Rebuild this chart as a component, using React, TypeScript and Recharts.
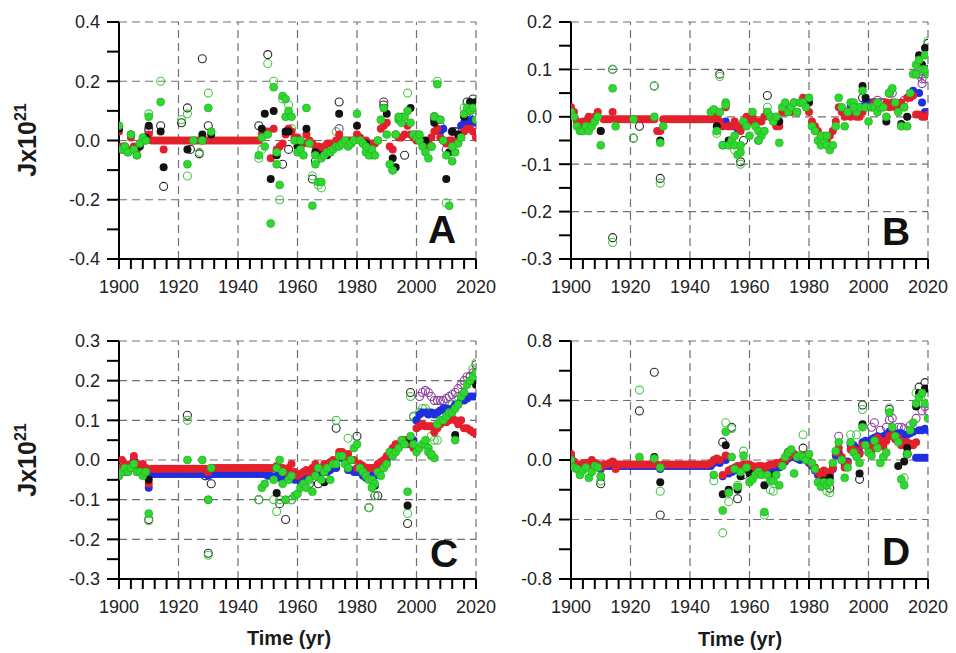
import { ScatterChart, Scatter, XAxis, YAxis, ReferenceLine } from 'recharts'

// Each series is a list of [firstYear, values[]] runs, one value per year
type Seg = [number, number[]]

const FONT = 'Arial, "Liberation Sans", Helvetica, sans-serif'

// ---- shared x axis ----
const xMajor = [1900, 1920, 1940, 1960, 1980, 2000, 2020]
const xTicks = Array.from({ length: 31 }, (_, i) => 1900 + i * 4)

// ---- panel A ----
const aYMajor = [-0.4, -0.2, 0, 0.2, 0.4]
const aYTicks = [-0.4, -0.3, -0.2, -0.1, 0, 0.1, 0.2, 0.3, 0.4]
const aRed: Seg[] = [
  [1900, [0.03, -0.02, -0.02, -0.03, 0.01, -0.02, -0.03, -0.01, 0, 0.01]],
  [1910, [0.02, 0, 0, 0, 0, 0, 0, 0, 0, 0]],
  [1920, [0, 0, 0, 0, 0, 0, 0, 0, 0, 0]],
  [1930, [0, 0, 0, 0, 0, 0, 0, 0, 0, 0]],
  [1940, [0, 0, 0, 0, 0, 0, 0, 0, 0.02, 0.03]],
  [1950, [0.03, -0.06, 0.04, -0.03, -0.02, -0.01, 0.02, 0.04, 0.03, 0.01]],
  [1960, [0.01, 0, -0.01, 0.02, 0, -0.01, -0.02, -0.02, -0.03, -0.02]],
  [1970, [-0.01, -0.01, -0.02, 0, 0.02, 0, -0.01, 0, 0, 0]],
  [1980, [0.02, 0.01, -0.01, 0, -0.01, -0.01, -0.01, 0, 0.04, 0.05]],
  [1990, [0.06, -0.02, -0.03, 0.02, 0.01, 0.01, 0.02, 0.05, 0.02, 0.01]],
  [2000, [0, 0.01, -0.01, -0.02, -0.01, 0.01, 0.03, 0.04, 0.01, 0]],
  [2010, [-0.01, 0, 0, -0.01, 0, 0.02, 0.03, 0.04, 0.04, 0.03, 0.01]],
  [1915, [-0.03]],
]
const aBlue: Seg[] = [[2008, [0.03, 0.04]], [2015, [0.05, 0.06, 0.07, 0.06, 0.07, 0.06]]]
const aGreen: Seg[] = [
  [1900, [0.05, -0.03, -0.02, -0.04, 0.02, -0.03, -0.05, -0.01, 0.01, 0]],
  [1910, [0.08]], [1914, [0.13]], [1923, [-0.08]], [1925, [0]], [1928, [0]], [1930, [0.11, 0.03]],
  [1947, [-0.05, 0.01, -0.02]],
  [1950, [0.02, -0.28, 0.18, -0.08, -0.15, 0.15, 0.08, 0.1, 0.08, 0]],
  [1960, [-0.04, -0.03, -0.05, 0.11, -0.01, -0.22, -0.05, -0.14, -0.06, -0.05]],
  [1970, [-0.04, -0.04, -0.03, -0.02, -0.02, -0.01, 0, -0.02, -0.01, 0]],
  [1980, [0.09, 0, -0.01, -0.04, -0.05, -0.03, -0.05, 0, 0.07, 0.11]],
  [1990, [0.02, -0.08, -0.1, 0.02, 0.07, 0.06, 0.08, 0.1, 0.06, 0.02]],
  [2000, [0.01, 0, -0.02, -0.04, -0.06, -0.02, 0.08, 0.19, 0.07, 0]],
  [2010, [-0.05, -0.22, -0.07, -0.04, -0.01, 0.01, 0.09, 0.11, 0.1, 0.11, 0.07]],
  [1953, [-0.04]], [1956, [0.14]], [1961, [0]], [1966, [-0.08]], [1968, [-0.14]],
  [1983, [-0.02]], [1994, [0.08]], [2001, [0.02]], [2012, [-0.02]],
]
const aBlack: Seg[] = [
  [1900, [0.04, -0.03, -0.03, -0.04, 0.02, -0.03, -0.05, -0.02, 0, 0.01]],
  [1910, [0.05]], [1914, [0.03, -0.09]], [1923, [-0.03]], [1928, [0.02]], [1931, [0.02]],
  [1948, [0.04, 0.09]], [1951, [-0.13, 0.1, -0.05]], [1956, [0.03, 0.03]], [1960, [-0.02]],
  [1963, [0.04]], [1966, [-0.04]], [1968, [-0.05]], [1970, [-0.05, -0.04]], [1974, [0.09]],
  [1978, [-0.01]], [1980, [0.05]], [1983, [-0.01]], [1985, [-0.05]], [1989, [0.11, 0.09]],
  [1992, [-0.06, -0.09]], [1995, [0.08]], [1998, [0.11]], [2000, [0.02]], [2003, [0]],
  [2006, [0.06, 0.07, 0.07, 0]], [2010, [-0.13, -0.04, 0.03]], [2014, [0.02]],
  [2016, [0.08, 0.1, 0.13, 0.11, 0.13]],
]
const aBlackOpen: Seg[] = [
  [1910, [0.04]], [1914, [0.05, -0.155]], [1921, [0.06]], [1923, [0.11, -0.03]], [1927, [-0.045, 0.276]],
  [1930, [0.05]], [1947, [0.05]], [1950, [0.29]], [1955, [-0.08]], [1957, [-0.03]], [1965, [-0.13, -0.07]],
  [1974, [0.13]], [1989, [0.12]], [1996, [-0.05]], [2006, [0.08]], [2013, [0.03]], [2017, [0.13]], [2019, [0.14]],
]
const aGreenOpen: Seg[] = [
  [1910, [0.09]], [1914, [0.2]], [1921, [0.07]], [1923, [0.09]], [1923, [-0.12]], [1927, [-0.04]],
  [1930, [0.16]], [1947, [-0.06, -0.03]], [1950, [0.26]], [1952, [0.2]], [1954, [-0.2, 0.14]],
  [1957, [0.12, 0.04]], [1965, [-0.12]], [1967, [-0.15, -0.16]], [1973, [0.03]], [1989, [0.13]],
  [1992, [-0.1]], [1997, [0.16]], [2005, [-0.02, 0.08, 0.2]], [2010, [-0.21]], [2016, [0.11]], [2020, [0.11]],
]
const aPurpleOpen: Seg[] = [
  [1910, [0.03]], [1974, [0.04]], [1989, [0.13]], [2006, [0.07]], [2008, [0.05]], [2010, [-0.03]],
  [2012, [0.03]], [2014, [0.03]], [2017, [0.09]], [2019, [0.08, 0.09]],
]

// ---- panel B ----
const bYMajor = [-0.3, -0.2, -0.1, 0, 0.1, 0.2]
const bYTicks = [-0.3, -0.25, -0.2, -0.15, -0.1, -0.05, 0, 0.05, 0.1, 0.15, 0.2]
const bRed: Seg[] = [
  [1900, [0.02, 0.01, -0.01, -0.02, -0.01, -0.01, 0, -0.01, 0, 0.01]],
  [1910, [-0.03, -0.005, -0.005, -0.005, 0.01, -0.005, -0.005, -0.005, -0.005, -0.005]],
  [1920, [-0.005, -0.005, -0.005, -0.005, -0.005, -0.005, -0.005, -0.005, -0.005, -0.03]],
  [1930, [-0.03, -0.005, -0.005, -0.005, -0.005, -0.005, -0.005, -0.005, -0.005, -0.005]],
  [1940, [-0.005, -0.005, -0.005, -0.005, -0.005, -0.005, -0.005, -0.005, -0.005, 0]],
  [1950, [-0.01, -0.02, 0.02, -0.02, -0.02, -0.01, -0.02, -0.03, -0.01, 0]],
  [1960, [-0.01, 0, -0.01, -0.01, -0.01, 0, 0.01, 0, -0.01, -0.02]],
  [1970, [-0.02, 0.01, 0.01, 0.02, 0.01, 0.03, 0.01, 0.03, 0.04, 0.03]],
  [1980, [0.01, -0.01, -0.02, -0.03, -0.04, -0.04, -0.05, -0.04, -0.03, -0.01]],
  [1990, [0.02, 0.01, 0, 0.01, 0, 0.01, 0, 0, 0.01, 0.02]],
  [2000, [0.02, 0.02, 0.03, 0.02, 0.02, 0.02, 0.03, 0.02, 0.03, 0.02]],
  [2010, [0.02, 0.03, 0.02, 0.04, 0.04, 0.045, 0.005, 0.005, 0, 0, 0.005]],
]
const bBlue: Seg[] = [
  [1950, [-0.015, -0.02, -0.01, -0.02, -0.02, -0.02, -0.025, -0.02, -0.02, -0.015]],
  [1994, [0.02, 0.01, 0.01, 0.02, 0.02, 0.03, 0.03, 0.03, 0.03]],
  [2015, [0.055]], [2017, [0.05, 0.03, 0.01, 0.01]],
]
const bGreen: Seg[] = [
  [1900, [0.01, 0, -0.02, -0.03, -0.03, -0.02, -0.03, -0.02, -0.01, 0]],
  [1910, [-0.06]], [1914, [0.06, -0.02]], [1921, [-0.005]], [1928, [0]], [1930, [-0.055, -0.02]],
  [1947, [0.01, 0.015, -0.03]],
  [1950, [0.01, -0.06, 0.03, -0.06, -0.05, -0.04, -0.08, -0.075, -0.01, -0.02]],
  [1960, [-0.04, 0.01, -0.02, -0.03, -0.04, -0.03, 0.01, 0, -0.01, 0]],
  [1970, [-0.055, 0.02, 0.03, 0.01, 0.02, 0.03, 0.01, 0.03, 0.03, 0.02]],
  [1980, [0.04, -0.02, -0.03, -0.05, -0.06, -0.05, -0.06, -0.07, -0.06, -0.02]],
  [1990, [0.04, 0.02, -0.02, 0.01, 0.03, 0.03, 0.01, 0.02, 0.055, 0.02]],
  [2000, [-0.01, 0.02, 0.02, 0.01, 0.02, 0.02, 0, 0.05, 0.06, 0.03]],
  [2010, [0.01, -0.02, 0.02, -0.02, 0.05, 0.09, 0.11, 0.12, 0.1, 0.13, 0.09]],
  [1952, [0.025]], [1955, [-0.06]], [1957, [-0.06]], [1963, [-0.05]], [1984, [-0.04]],
  [1986, [-0.04]], [1995, [0.02]], [2003, [0.03]], [2016, [0.09]], [2019, [0.1]],
]
const bBlack: Seg[] = [
  [1910, [-0.03]], [1930, [-0.05]], [1949, [-0.02]], [1951, [-0.06]], [1953, [-0.05]], [1963, [-0.05]],
  [1966, [0.01]], [1970, [-0.01]], [1980, [0.03]], [1998, [0.065, 0.04]], [2006, [-0.01]],
  [2011, [-0.015]], [2013, [0]], [2017, [0.13, 0.11, 0.145, 0.1]],
]
const bBlackOpen: Seg[] = [
  [1914, [-0.255]], [1914, [0.1]], [1921, [-0.045]], [1923, [-0.02]], [1928, [0.065]], [1930, [-0.13]],
  [1950, [0.09]], [1957, [-0.095, -0.05]], [1966, [0.045]], [1998, [0.04]], [2007, [0.05]],
  [2018, [0.09]], [2020, [0.155]],
]
const bGreenOpen: Seg[] = [
  [1914, [-0.265]], [1914, [0.1]], [1921, [-0.045]], [1928, [0.065]], [1930, [-0.14]],
  [1948, [0.015, -0.035, 0.085]], [1955, [-0.07]], [1957, [-0.1]], [1966, [0.02]], [2007, [0.05]],
  [2016, [0.09]], [2020, [0.16]],
]
const bPurpleOpen: Seg[] = [
  [2002, [0.03, 0.035, 0.03, 0.03]], [2008, [0.05]], [2012, [0.035]], [2017, [0.09, 0.08, 0.08, 0.1]], [2018, [0.07]],
]

// ---- panel C ----
const cYMajor = [-0.3, -0.2, -0.1, 0, 0.1, 0.2, 0.3]
const cYTicks = [-0.3, -0.25, -0.2, -0.15, -0.1, -0.05, 0, 0.05, 0.1, 0.15, 0.2, 0.25, 0.3]
const cRed: Seg[] = [
  [1900, [-0.02, 0, -0.01, -0.02, -0.01, 0.01, -0.01, -0.02, -0.01, -0.02]],
  [1910, [-0.06, -0.022, -0.022, -0.022, -0.022, -0.022, -0.022, -0.022, -0.022, -0.022]],
  [1920, [-0.022, -0.022, -0.022, -0.022, -0.022, -0.022, -0.022, -0.022, -0.022, -0.022]],
  [1930, [-0.03, -0.02, -0.02, -0.02, -0.02, -0.02, -0.02, -0.02, -0.02, -0.02]],
  [1940, [-0.02, -0.02, -0.02, -0.02, -0.02, -0.02, -0.02, -0.02, -0.02, -0.02]],
  [1950, [-0.02, -0.02, -0.02, -0.015, -0.02, -0.02, -0.03, -0.02, -0.01, -0.03]],
  [1960, [-0.04, -0.035, -0.03, -0.025, -0.03, -0.02, -0.01, -0.02, -0.02, -0.01]],
  [1970, [-0.01, -0.005, 0, -0.01, 0.02, 0.02, 0.01, 0.015, 0, 0]],
  [1980, [-0.02, -0.01, -0.015, -0.02, -0.02, -0.02, -0.02, -0.01, -0.005, 0]],
  [1990, [0.01, 0.02, 0.03, 0.04, 0.04, 0.04, 0.05, 0.05, 0.04, 0.03]],
  [2000, [0.08, 0.085, 0.09, 0.085, 0.085, 0.085, 0.07, 0.08, 0.09, 0.1]],
  [2010, [0.095, 0.1, 0.105, 0.1, 0.09, 0.1, 0.08, 0.08, 0.075, 0.07, 0.065]],
]
const cBlue: Seg[] = [
  [1900, [-0.04, -0.02, -0.03, -0.03, -0.02, 0, -0.02, -0.03, -0.03, -0.03]],
  [1910, [-0.07, -0.035, -0.035, -0.035, -0.035, -0.035, -0.035, -0.035, -0.035, -0.035]],
  [1920, [-0.035, -0.035, -0.035, -0.035, -0.035, -0.035, -0.035, -0.035, -0.035, -0.035]],
  [1930, [-0.04, -0.035, -0.035, -0.035, -0.035, -0.035, -0.035, -0.035, -0.035, -0.035]],
  [1940, [-0.035, -0.035, -0.035, -0.035, -0.035, -0.035, -0.035, -0.035, -0.035, -0.035]],
  [1950, [-0.04, -0.04, -0.045, -0.04, -0.045, -0.05, -0.045, -0.04, -0.04, -0.05]],
  [1960, [-0.05, -0.05, -0.045, -0.04, -0.045, -0.04, -0.035, -0.035, -0.03, -0.03]],
  [1970, [-0.03, -0.025, -0.02, -0.02, 0.01, 0.005, 0, -0.025, -0.025, -0.03]],
  [1980, [-0.03, -0.03, -0.04, -0.045, -0.045, -0.04, -0.04, -0.03, -0.02, -0.01]],
  [1990, [0, 0.01, 0.02, 0.03, 0.04, 0.05, 0.05, 0.04, 0.04, 0.05]],
  [2000, [0.1, 0.115, 0.12, 0.12, 0.115, 0.12, 0.115, 0.12, 0.125, 0.13]],
  [2010, [0.13, 0.125, 0.13, 0.14, 0.14, 0.15, 0.15, 0.155, 0.16, 0.16, 0.16]],
]
const cGreen: Seg[] = [
  [1900, [-0.04, -0.03, -0.02, -0.03, -0.02, -0.01, -0.03, -0.03, -0.04, -0.03]],
  [1910, [-0.135]], [1923, [0]], [1928, [0]], [1930, [-0.1, -0.02]],
  [1948, [-0.07, -0.06]],
  [1952, [-0.05, -0.02, 0, -0.03, -0.1, -0.05, -0.04, -0.09]],
  [1960, [-0.085, -0.07, -0.06, -0.07, -0.05, -0.08, -0.04, -0.02, -0.05, -0.03]],
  [1970, [-0.02, -0.05, -0.01, -0.01, 0.01, 0.01, -0.01, -0.02, 0, 0.03]],
  [1980, [0.04, -0.02, -0.03, -0.04, -0.05, -0.05, -0.06, -0.03, -0.04, -0.02]],
  [1990, [-0.01, 0.02, 0.01, 0.02, 0.03, 0.05, 0.04, -0.08, 0.06, 0.04]],
  [2000, [0.02, 0.03, 0.04, 0.04, 0.03, 0.01, 0.005, 0.09, 0.1, 0.1]],
  [2010, [0.11, 0.12, 0.12, 0.13, 0.14, 0.16, 0.17, 0.19, 0.2, 0.21, 0.22]],
  [2013, [0.05]], [2003, [0.05, 0.02, 0.015]], [1955, [-0.06]], [1985, [-0.07]],
]
const cBlack: Seg[] = [
  [1910, [-0.05]], [1930, [-0.1]], [1953, [-0.083]], [1956, [-0.1]], [1969, [-0.056]],
  [1986, [-0.065]], [1997, [-0.115, 0.05]], [2013, [0.063]], [2019, [0.2, 0.19]],
]
const cBlackOpen: Seg[] = [
  [1910, [-0.15]], [1923, [0.113]], [1929, [-0.04, -0.235, -0.06]], [1947, [-0.1]], [1954, [-0.11]],
  [1956, [-0.15]], [1958, [-0.1]], [1964, [-0.06]], [1967, [-0.06]], [1973, [0.08]], [1980, [0.06]],
  [1984, [-0.12]], [1986, [-0.09, -0.09]], [1997, [-0.16, 0.17, 0.11]], [2020, [0.24]],
]
const cGreenOpen: Seg[] = [
  [1910, [-0.153]], [1923, [0.1]], [1930, [-0.24]], [1947, [-0.1]], [1952, [-0.1, -0.13, -0.1]],
  [1958, [-0.1]], [1973, [0.1]], [1977, [0.055]], [1984, [-0.12]], [1986, [-0.09]],
  [1997, [-0.135, 0.16, 0.11, 0.1, 0.12, 0.13, 0.13, 0.12, 0.06, 0.05, 0.05]],
  [2010, [0.13]], [2012, [0.14]], [2014, [0.16]], [2016, [0.19]], [2018, [0.21, 0.23, 0.245]],
]
const cPurpleOpen: Seg[] = [
  [2001, [0.16, 0.17, 0.175, 0.17, 0.16, 0.15, 0.15, 0.15, 0.15]],
  [2010, [0.155, 0.16, 0.165, 0.17, 0.18, 0.19, 0.2, 0.21, 0.21, 0.22, 0.22]],
]

// ---- panel D ----
const dYMajor = [-0.8, -0.4, 0, 0.4, 0.8]
const dYTicks = [-0.8, -0.6, -0.4, -0.2, 0, 0.2, 0.4, 0.6, 0.8]
const dRed: Seg[] = [
  [1900, [0.04, -0.01, -0.03, -0.04, -0.02, -0.02, -0.03, 0, -0.02, -0.03]],
  [1910, [-0.05, -0.03, -0.03, -0.02, -0.01, -0.06, -0.03, -0.03, -0.03, -0.03]],
  [1920, [-0.03, -0.03, -0.03, -0.03, -0.03, -0.03, -0.03, -0.03, -0.03, -0.03]],
  [1930, [-0.05, -0.03, -0.03, -0.03, -0.03, -0.03, -0.03, -0.03, -0.03, -0.03]],
  [1940, [-0.03, -0.03, -0.03, -0.03, -0.03, -0.03, -0.03, -0.02, 0, 0.01]],
  [1950, [0, -0.1, 0.03, -0.07, -0.06, -0.05, -0.04, -0.04, -0.03, -0.03]],
  [1960, [-0.03, -0.04, -0.05, -0.04, -0.04, -0.05, -0.04, -0.03, -0.03, -0.02]],
  [1970, [-0.02, -0.01, 0, 0.02, 0.04, 0.04, 0.03, 0.02, 0.03, 0.02]],
  [1980, [-0.01, -0.03, -0.05, -0.08, -0.1, -0.07, -0.1, -0.08, -0.05, 0.05]],
  [1990, [0.08, 0.02, -0.05, -0.02, 0.07, 0.07, 0.06, 0.04, 0.1, 0.1]],
  [2000, [0.08, 0.06, 0.11, 0.15, 0.13, 0.09, 0.13, 0.16, 0.17, 0.14]],
  [2010, [0.15, 0.1, 0.12, 0.12, 0.11, 0.1, 0.12]],
]
const dBlue: Seg[] = [
  [1900, [0.02, -0.02, -0.04, -0.05, -0.03, -0.03, -0.04, -0.02, -0.03, -0.04]],
  [1910, [-0.06, -0.04, -0.04, -0.04, -0.04, -0.04, -0.04, -0.04, -0.04, -0.04]],
  [1920, [-0.04, -0.04, -0.04, -0.04, -0.04, -0.04, -0.04, -0.04, -0.04, -0.04]],
  [1930, [-0.06, -0.04, -0.04, -0.04, -0.04, -0.04, -0.04, -0.04, -0.04, -0.04]],
  [1940, [-0.04, -0.04, -0.04, -0.04, -0.04, -0.04, -0.04, -0.04, -0.02, -0.01]],
  [1950, [-0.02, -0.11, 0, -0.09, -0.08, -0.07, -0.06, -0.06, -0.05, -0.06]],
  [1960, [-0.07, -0.07, -0.08, -0.06, -0.07, -0.08, -0.06, -0.06, -0.06, -0.05]],
  [1970, [-0.05, -0.03, -0.01, 0.01, 0.02, 0.02, 0.01, 0, 0.01, 0]],
  [1980, [-0.02, -0.04, -0.07, -0.1, -0.12, -0.1, -0.12, -0.1, -0.06, 0.03]],
  [1990, [0.05, 0, -0.03, -0.01, 0.1, 0.1, 0.08, 0.05, 0.12, 0.13]],
  [2000, [0.12, 0.14, 0.15, 0.16, 0.15, 0.16, 0.17, 0.19, 0.2, 0.17]],
  [2010, [0.18, 0.18, 0.17, 0.17, 0.18, 0.19]],
  [2016, [0.015, 0.015, 0.015, 0.015, 0.015]], [2017, [0.2, 0.2, 0.21, 0.2]],
]
const dGreen: Seg[] = [
  [1900, [0, -0.05, -0.06, -0.1, -0.07, -0.05, -0.12, -0.08, -0.04, -0.05]],
  [1910, [-0.11]], [1923, [0.02]], [1928, [0.01]], [1930, [-0.05]], [1948, [-0.1]],
  [1951, [-0.34, 0.19, -0.22, 0.02, -0.06, -0.18, -0.08, 0.03, -0.05]],
  [1960, [-0.15, -0.13, -0.1, -0.08, -0.1, -0.35, -0.1, -0.14, -0.14, -0.1]],
  [1970, [-0.17, -0.04, 0.02, 0.05, 0.07, -0.09, 0.02, 0.03, 0.02, 0]],
  [1980, [0.04, -0.02, -0.06, -0.15, -0.18, -0.15, -0.17, -0.15, -0.02, 0.06]],
  [1990, [0.12, 0, -0.12, -0.05, 0.12, 0.05, 0.02, -0.02, 0.22, 0.1]],
  [2000, [0.05, 0.03, 0.13, 0.08, -0.02, 0.02, 0.05, 0.32, 0.22, 0.16]],
  [2010, [0.12, -0.13, -0.17, 0.04, 0.2, 0.25, 0.38, 0.42, 0.45, 0.38, 0.28]],
]
const dBlack: Seg[] = [
  [1910, [-0.11]], [1928, [0.02]], [1930, [-0.15]], [1951, [-0.23, 0.1, -0.2]], [1956, [-0.2, -0.11]],
  [1960, [-0.09]], [1965, [-0.17]], [1968, [-0.1]], [1985, [-0.14]], [1987, [-0.12]],
  [1997, [-0.09, 0.24]], [2010, [-0.04]], [2012, [-0.01, 0.08]], [2016, [0.36, 0.45, 0.45, 0.48, 0.48]],
]
const dBlackOpen: Seg[] = [
  [1910, [-0.16]], [1923, [0.33]], [1928, [0.59]], [1930, [-0.37]], [1951, [0.12]], [1954, [0.22]],
  [1956, [-0.26]], [1958, [-0.1]], [1973, [0.05]], [1978, [0.08]], [1987, [-0.19]], [1997, [-0.13, 0.37]],
  [2007, [0.34]], [2013, [0.04]], [2017, [0.49]], [2019, [0.52]],
]
const dGreenOpen: Seg[] = [
  [1910, [-0.14]], [1923, [0.47]], [1930, [-0.21]], [1948, [-0.14]], [1951, [-0.49, 0.25, -0.28, 0.21]],
  [1956, [-0.17]], [1958, [0.06]], [1965, [-0.37]], [1967, [-0.2, -0.21]], [1978, [0.17]],
  [1986, [-0.21, -0.22]], [1994, [0.17]], [1996, [0.17]], [1998, [0.34]], [2007, [0.35]],
  [2012, [-0.12]], [2016, [0.45]], [2020, [0.43]],
]
const dPurpleOpen: Seg[] = [
  [1990, [0.16]], [2001, [0.22, 0.25]], [2004, [0.2]], [2006, [0.22, 0.27, 0.28]],
  [2010, [0.22, 0.22, 0.21]], [2014, [0.23]], [2016, [0.28]], [2018, [0.33, 0.36, 0.33]],
]

const toPoints = (segs: Seg[]) =>
  segs.flatMap(([start, vals]) => vals.map((y, i) => ({ x: start + i, y })))

// drawing order: open circles underneath, green filled on top
const STYLES: Record<string, { fill: string; stroke: string; sw: number }> = {
  blackOpen: { fill: 'none', stroke: '#2a2a2a', sw: 1.1 },
  greenOpen: { fill: 'none', stroke: '#48c848', sw: 1.1 },
  purpleOpen: { fill: 'none', stroke: '#8e3f9f', sw: 1.1 },
  blue: { fill: '#1f2fe0', stroke: 'none', sw: 0 },
  red: { fill: '#e3202c', stroke: 'none', sw: 0 },
  black: { fill: '#121212', stroke: 'none', sw: 0 },
  green: { fill: '#2fd82f', stroke: '#24a824', sw: 0.6 },
}

const panels = [
  {
    key: 'A', left: 0, top: 0, mt: 22, domain: [-0.4, 0.4], yTicks: aYTicks, yMajor: aYMajor,
    series: { blackOpen: aBlackOpen, greenOpen: aGreenOpen, purpleOpen: aPurpleOpen, blue: aBlue, red: aRed, black: aBlack, green: aGreen },
  },
  {
    key: 'B', left: 452, top: 0, mt: 22, domain: [-0.3, 0.2], yTicks: bYTicks, yMajor: bYMajor,
    series: { blackOpen: bBlackOpen, greenOpen: bGreenOpen, purpleOpen: bPurpleOpen, blue: bBlue, red: bRed, black: bBlack, green: bGreen },
  },
  {
    key: 'C', left: 0, top: 320, mt: 21, domain: [-0.3, 0.3], yTicks: cYTicks, yMajor: cYMajor,
    series: { blackOpen: cBlackOpen, greenOpen: cGreenOpen, purpleOpen: cPurpleOpen, blue: cBlue, red: cRed, black: cBlack, green: cGreen },
  },
  {
    key: 'D', left: 452, top: 320, mt: 21, domain: [-0.8, 0.8], yTicks: dYTicks, yMajor: dYMajor,
    series: { blackOpen: dBlackOpen, greenOpen: dGreenOpen, purpleOpen: dPurpleOpen, blue: dBlue, red: dRed, black: dBlack, green: dGreen },
  },
]

const gridStroke = { stroke: '#707070', strokeWidth: 1.2, strokeDasharray: '8 5' }

function Panel({ p }: { p: any }) {
  const XTick = (props: any) => {
    const v = props.payload.value
    if (!xMajor.includes(v)) return <g />
    return (
      <text x={props.x} y={props.y + 24} textAnchor="middle" fontSize={18} fontFamily={FONT} fill="#222">
        {v}
      </text>
    )
  }
  const YTick = (props: any) => {
    const v = props.payload.value
    if (!p.yMajor.includes(v)) return <g />
    return (
      <text x={props.x - 7} y={props.y} dy="0.35em" textAnchor="end" fontSize={18} fontFamily={FONT} fill="#222">
        {v.toFixed(1)}
      </text>
    )
  }
  return (
    <div style={{ position: 'absolute', left: p.left, top: p.top }}>
      <ScatterChart width={500} height={300} margin={{ top: p.mt, right: 24, bottom: 11, left: 0 }}>
        <XAxis
          type="number" dataKey="x" domain={[1900, 2020]} ticks={xTicks} interval={0} allowDataOverflow
          height={30} tickSize={10} tickMargin={0} tick={XTick}
          axisLine={{ stroke: '#000', strokeWidth: 2 }} tickLine={{ stroke: '#000', strokeWidth: 2 }}
        />
        <YAxis
          type="number" dataKey="y" domain={p.domain} ticks={p.yTicks} interval={0} allowDataOverflow
          width={119} tickSize={12} tickMargin={0} tick={YTick}
          axisLine={{ stroke: '#000', strokeWidth: 2 }} tickLine={{ stroke: '#000', strokeWidth: 2 }}
        />
        {p.yMajor.filter((v: number) => v !== p.domain[0]).map((v: number) => (
          <ReferenceLine key={'y' + v} y={v} {...gridStroke} />
        ))}
        {xMajor.filter((v) => v !== 1900).map((v) => (
          <ReferenceLine key={'x' + v} x={v} {...gridStroke} />
        ))}
        {Object.keys(STYLES).map((name) => {
          const st = STYLES[name]
          return (
            <Scatter
              key={name}
              data={toPoints(p.series[name])}
              isAnimationActive={false}
              shape={(s: any) => (
                <circle cx={s.cx} cy={s.cy} r={4} fill={st.fill} stroke={st.stroke} strokeWidth={st.sw} />
              )}
            />
          )
        })}
      </ScatterChart>
    </div>
  )
}

export default function App() {
  const letter = { fontSize: 39, fontWeight: 700, fontFamily: FONT, fill: '#111' }
  const title = { fontSize: 20, fontWeight: 700, fontFamily: FONT, fill: '#1a1a1a' }
  return (
    <div style={{ position: 'absolute', left: 0, top: 0, width: 956, height: 653, background: '#fff', overflow: 'hidden' }}>
      {panels.map((p) => (
        <Panel key={p.key} p={p} />
      ))}
      <svg width={956} height={653} style={{ position: 'absolute', left: 0, top: 0, pointerEvents: 'none' }}>
        <text x={428} y={243} {...letter}>A</text>
        <text x={882} y={245} {...letter}>B</text>
        <text x={430} y={567} {...letter}>C</text>
        <text x={882} y={565} {...letter}>D</text>
        {[140, 460].map((cy) => (
          <text key={cy} transform={`translate(36,${cy}) rotate(-90)`} textAnchor="middle" {...title} fontSize={25}>
            Jx10<tspan dy={-10} fontSize={16}>21</tspan>
          </text>
        ))}
        <text x={289} y={645} textAnchor="middle" {...title}>Time (yr)</text>
        <text x={740} y={646} textAnchor="middle" {...title}>Time (yr)</text>
      </svg>
    </div>
  )
}
